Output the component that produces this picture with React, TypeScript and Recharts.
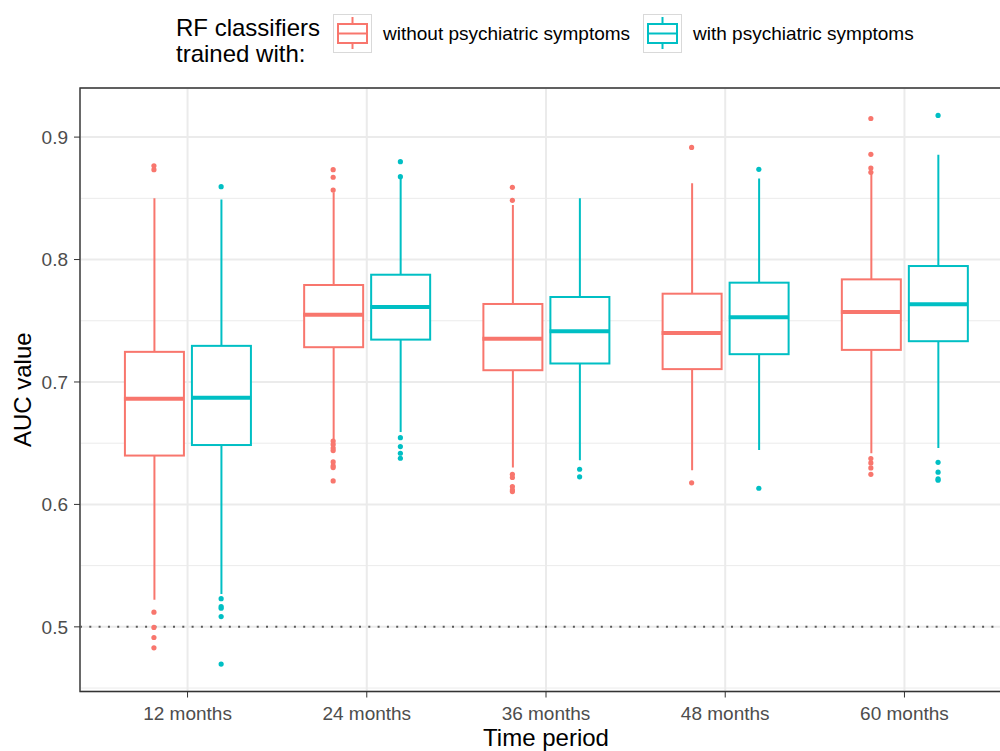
import React from 'react';
import {
  ComposedChart,
  Bar,
  Scatter,
  XAxis,
  YAxis,
  CartesianGrid,
  ReferenceLine,
  ReferenceArea,
  Legend,
} from 'recharts';

// categories
const PERIODS = ['12 months', '24 months', '36 months', '48 months', '60 months'];

// RF classifiers trained without psychiatric symptoms
const WITHOUT_LO = [0.5222, 0.6532, 0.6301, 0.628, 0.6418];
const WITHOUT_Q1 = [0.6399, 0.7284, 0.7096, 0.7105, 0.7262];
const WITHOUT_MED = [0.6863, 0.755, 0.7354, 0.7401, 0.7572];
const WITHOUT_Q3 = [0.7246, 0.7792, 0.7637, 0.7721, 0.7838];
const WITHOUT_HI = [0.85, 0.855, 0.8445, 0.8623, 0.8699];
const WITHOUT_OUTLIERS = [
  [0.8766, 0.8734, 0.512, 0.4995, 0.4913, 0.4829],
  [0.8734, 0.8672, 0.8568, 0.6518, 0.649, 0.646, 0.644, 0.6347, 0.6315, 0.6301, 0.6192],
  [0.859, 0.8484, 0.6246, 0.622, 0.6146, 0.6118, 0.6105],
  [0.8916, 0.6176],
  [0.9152, 0.8859, 0.8747, 0.8712, 0.6374, 0.6339, 0.6298, 0.6246],
];

// RF classifiers trained with psychiatric symptoms
const WITH_LO = [0.5269, 0.6591, 0.636, 0.6444, 0.6461];
const WITH_Q1 = [0.6485, 0.7346, 0.7151, 0.7227, 0.7333];
const WITH_MED = [0.6871, 0.7613, 0.7414, 0.7528, 0.7634];
const WITH_Q3 = [0.7295, 0.7876, 0.7694, 0.7811, 0.7947];
const WITH_HI = [0.849, 0.866, 0.8501, 0.8661, 0.8856];
const WITH_OUTLIERS = [
  [0.8595, 0.523, 0.5166, 0.5152, 0.5084, 0.4696],
  [0.8799, 0.8677, 0.6545, 0.6472, 0.6418, 0.6377],
  [0.6287, 0.6225],
  [0.8737, 0.6132],
  [0.9177, 0.6344, 0.6263, 0.6208, 0.6198],
];

const MAJOR_TICKS = [0.5, 0.6, 0.7, 0.8, 0.9];
const MINOR_TICKS = [0.45, 0.55, 0.65, 0.75, 0.85];
const Y_DOMAIN: [number, number] = [0.4472, 0.9401];
const X_DOMAIN: [number, number] = [0.4, 5.6];
const DODGE = 0.1875;

const RED = '#F8766D';
const TEAL = '#00BFC4';
const FONT = '"Liberation Sans", Arial, Helvetica, sans-serif';

const W = 1020;
const H = 751;
const MARGIN = { top: 88, right: 8, bottom: 0, left: 0 };
const Y_AXIS_W = 80;
const X_AXIS_H = 59.5;
const PLOT_W = W - MARGIN.left - MARGIN.right - Y_AXIS_W;
const CAT_PAD = (PLOT_W * 0.1) / 5.2;

const rows = PERIODS.map((period, i) => ({
  period,
  boxA: [WITHOUT_Q1[i], WITHOUT_Q3[i]],
  boxB: [WITH_Q1[i], WITH_Q3[i]],
  whA: [WITHOUT_LO[i], WITHOUT_HI[i]],
  whB: [WITH_LO[i], WITH_HI[i]],
}));

const medA = WITHOUT_MED.map((y, i) => ({ x: i + 1 - DODGE, y }));
const medB = WITH_MED.map((y, i) => ({ x: i + 1 + DODGE, y }));
const outA = WITHOUT_OUTLIERS.flatMap((vals, i) => vals.map((y) => ({ x: i + 1 - DODGE, y })));
const outB = WITH_OUTLIERS.flatMap((vals, i) => vals.map((y) => ({ x: i + 1 + DODGE, y })));

const boxShape = (color: string) => (p: any) => (
  <rect x={p.x} y={p.y} width={p.width} height={p.height} fill="#fff" stroke={color} strokeWidth={2} />
);

const whiskerShape = (color: string) => (p: any) => {
  const cx = p.x + p.width / 2;
  return <line x1={cx} x2={cx} y1={p.y} y2={p.y + p.height} stroke={color} strokeWidth={2} />;
};

const medianShape = (color: string) => (p: any) => (
  <line x1={p.cx - 30} x2={p.cx + 30} y1={p.cy} y2={p.cy} stroke={color} strokeWidth={4} />
);

const dotShape = (color: string) => (p: any) => <circle cx={p.cx} cy={p.cy} r={2.6} fill={color} />;

function LegendKey({ color, left }: { color: string; left: number }) {
  return (
    <svg width={40} height={40} style={{ position: 'absolute', left, top: 14 }}>
      <rect x={0.5} y={0.5} width={38} height={38} fill="#fff" stroke="#d9d9d9" />
      <line x1={19.5} x2={19.5} y1={3} y2={35} stroke={color} strokeWidth={2} />
      <rect x={5} y={10} width={29} height={19} fill="#fff" stroke={color} strokeWidth={2} />
      <line x1={5} x2={34} y1={19.5} y2={19.5} stroke={color} strokeWidth={2} />
    </svg>
  );
}

function TopLegend() {
  const label: React.CSSProperties = { position: 'absolute', top: 23, fontSize: 19, lineHeight: '22px', whiteSpace: 'nowrap' };
  return (
    <div style={{ position: 'relative', width: 1000, height: 80, fontFamily: FONT, color: '#000' }}>
      <div style={{ position: 'absolute', left: 176, top: 15, fontSize: 24, lineHeight: '26px' }}>
        RF classifiers
        <br />
        trained with:
      </div>
      <LegendKey color={RED} left={333} />
      <div style={{ ...label, left: 383 }}>without psychiatric symptoms</div>
      <LegendKey color={TEAL} left={643} />
      <div style={{ ...label, left: 693 }}>with psychiatric symptoms</div>
    </div>
  );
}

export default function App() {
  return (
    <div style={{ position: 'absolute', left: 0, top: 0, width: 1000, height: H, overflow: 'hidden', fontFamily: FONT, background: '#fff' }}>
      <ComposedChart width={W} height={H} data={rows} margin={MARGIN} barGap={8}>
        <CartesianGrid xAxisId="cat" yAxisId="minor" vertical={false} stroke="#EBEBEB" strokeWidth={1} />
        <CartesianGrid xAxisId="cat" yAxisId="val" stroke="#EBEBEB" strokeWidth={2} />
        <XAxis
          xAxisId="cat"
          dataKey="period"
          type="category"
          padding={{ left: CAT_PAD, right: CAT_PAD }}
          height={X_AXIS_H}
          interval={0}
          axisLine={false}
          tickSize={6}
          tickMargin={9}
          tickLine={{ stroke: '#333333' }}
          tick={{ fill: '#4D4D4D', fontSize: 19 }}
          label={{
            content: (p: any) => (
              <text x={p.viewBox.x + p.viewBox.width / 2} y={p.viewBox.y + 54.5} textAnchor="middle" fontSize={24} fill="#000">
                Time period
              </text>
            ),
          }}
        />
        <XAxis xAxisId="wh" dataKey="period" type="category" padding={{ left: CAT_PAD, right: CAT_PAD }} height={0} hide />
        <XAxis xAxisId="num" dataKey="x" type="number" domain={X_DOMAIN} allowDataOverflow height={0} hide />
        <YAxis
          yAxisId="val"
          type="number"
          domain={Y_DOMAIN}
          ticks={MAJOR_TICKS}
          allowDataOverflow
          interval={0}
          width={Y_AXIS_W}
          axisLine={false}
          tickSize={6}
          tickMargin={6}
          tickLine={{ stroke: '#333333' }}
          tick={{ fill: '#4D4D4D', fontSize: 19 }}
          tickFormatter={(v: number) => v.toFixed(1)}
          label={{
            content: (p: any) => {
              const cy = p.viewBox.y + p.viewBox.height / 2;
              return (
                <text x={22} y={cy} transform={`rotate(-90, 22, ${cy})`} textAnchor="middle" dominantBaseline="central" fontSize={24} fill="#000">
                  AUC value
                </text>
              );
            },
          }}
        />
        <YAxis yAxisId="minor" type="number" orientation="right" width={0} domain={Y_DOMAIN} ticks={MINOR_TICKS} allowDataOverflow hide />

        <ReferenceLine xAxisId="num" yAxisId="val" y={0.5} stroke="#595959" strokeWidth={2} strokeDasharray="2 7.3" />

        <Bar xAxisId="wh" yAxisId="val" dataKey="whA" barSize={59} shape={whiskerShape(RED)} isAnimationActive={false} />
        <Bar xAxisId="wh" yAxisId="val" dataKey="whB" barSize={59} shape={whiskerShape(TEAL)} isAnimationActive={false} />
        <Bar xAxisId="cat" yAxisId="val" dataKey="boxA" barSize={59} shape={boxShape(RED)} isAnimationActive={false} />
        <Bar xAxisId="cat" yAxisId="val" dataKey="boxB" barSize={59} shape={boxShape(TEAL)} isAnimationActive={false} />

        <Scatter xAxisId="num" yAxisId="val" data={medA} dataKey="y" shape={medianShape(RED)} isAnimationActive={false} />
        <Scatter xAxisId="num" yAxisId="val" data={medB} dataKey="y" shape={medianShape(TEAL)} isAnimationActive={false} />
        <Scatter xAxisId="num" yAxisId="val" data={outA} dataKey="y" shape={dotShape(RED)} isAnimationActive={false} />
        <Scatter xAxisId="num" yAxisId="val" data={outB} dataKey="y" shape={dotShape(TEAL)} isAnimationActive={false} />

        <ReferenceArea
          xAxisId="num"
          yAxisId="val"
          x1={X_DOMAIN[0]}
          x2={X_DOMAIN[1]}
          y1={Y_DOMAIN[0]}
          y2={Y_DOMAIN[1]}
          fill="none"
          stroke="#333333"
          strokeWidth={1.4}
          ifOverflow="visible"
        />

        <Legend
          layout="vertical"
          align="center"
          verticalAlign="middle"
          wrapperStyle={{ top: 0, left: 0, width: 1000, height: 80 }}
          content={() => <TopLegend />}
        />
      </ComposedChart>
    </div>
  );
}
